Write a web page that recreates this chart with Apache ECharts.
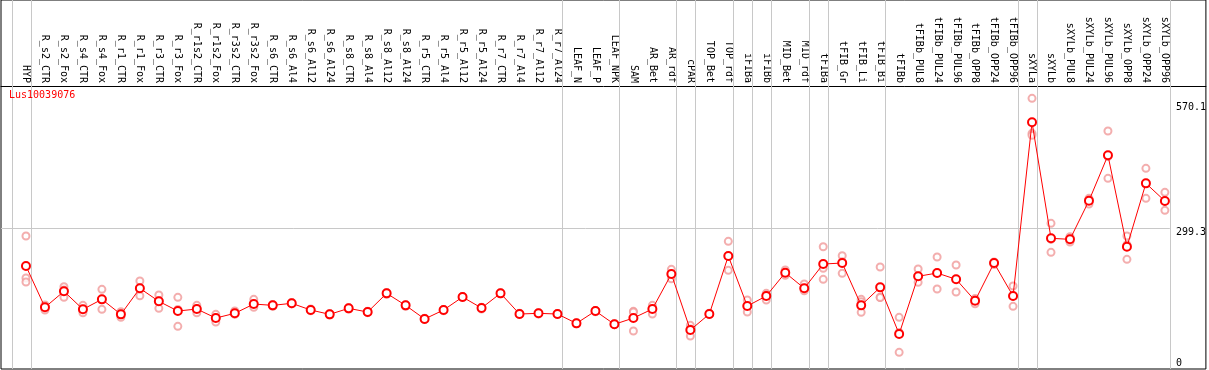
<!DOCTYPE html>
<html>
<head>
<meta charset="utf-8">
<script src="https://cdn.jsdelivr.net/npm/echarts@6/dist/echarts.min.js"></script>
<style>
html,body{margin:0;padding:0;background:#fff;}
#chart{width:1209px;height:370px;}
</style>
</head>
<body>
<div id="chart"></div>
<script>
const geneName = 'Lus10039076';
const categories = ['HYP','R_s2_CTR','R_s2_Fox','R_s4_CTR','R_s4_Fox','R_r1_CTR','R_r1_Fox','R_r3_CTR','R_r3_Fox','R_r1s2_CTR','R_r1s2_Fox','R_r3s2_CTR','R_r3s2_Fox','R_s6_CTR','R_s6_Al4','R_s6_Al12','R_s6_Al24','R_s8_CTR','R_s8_Al4','R_s8_Al12','R_s8_Al24','R_r5_CTR','R_r5_Al4','R_r5_Al12','R_r5_Al24','R_r7_CTR','R_r7_Al4','R_r7_Al12','R_r7_Al24','LEAF_N','LEAF_P','LEAF_NPK','SAM','AR_Bet','AR_rdf','cPAR','TOP_Bet','TOP_rdf','iFIBa','iFIBb','MID_Bet','MID_rdf','tFIBa','tFIB_Gr','tFIB_Li','tFIB_Bi','tFIBb','tFIBb_PUL8','tFIBb_PUL24','tFIBb_PUL96','tFIBb_OPP8','tFIBb_OPP24','tFIBb_OPP96','sXYLa','sXYLb','sXYLb_PUL8','sXYLb_PUL24','sXYLb_PUL96','sXYLb_OPP8','sXYLb_OPP24','sXYLb_OPP96'];
const meanValues = [217.1,127.6,162.3,123.3,144.9,112.4,168.8,140.6,119.6,123.9,104.4,114.6,134.7,131.9,136.3,121.8,112.4,125.4,117.4,157.9,131.9,102.3,121.8,149.9,126.1,157.9,113.1,114.6,113.1,92.9,119.6,90.8,104.4,123.9,199.7,78.4,113.1,238.7,130.4,152.1,202.6,168.8,221.4,223.6,131.9,170.9,69.8,194.8,201.9,188.3,141.9,223.6,152.1,528.4,277.1,274.9,358.5,456.9,258.9,396.2,357.9];
const rep1 = [282.1,132.6,172.2,131.9,166.6,118.1,184.6,154.2,149.3,131.9,112.4,119.6,144.9,134,138,124,114,127,119,160,133,104,123,151,128,159,115,116,114,94,121,92,118.9,131.9,209.9,88.6,115,270.6,143.4,157.9,208.4,178.1,258.9,239.4,144.9,214.9,105.9,210.6,236.6,219.2,146.7,225.7,173.7,580.4,309.6,280.5,363.7,509.5,282.1,428.7,376.7];
const rep2 = [191.1,128.2,165.1,121.8,144.9,112.4,168.8,141.9,123.1,123.9,104.4,114.6,134.7,131,136,122,112,125,117,158,132,102,122,150,126,158,113,115,113,93,120,91,117.4,123.9,199.7,80.6,113,238.7,130.4,154.2,202.6,168.8,212.1,226.4,139.7,149.3,73.2,194.8,201.9,188.3,143.4,223.6,152.1,504.6,274.7,274.9,360.1,454.1,263.2,396.2,357.9];
const rep3 = [182.4,121.8,149.3,115.9,123.3,105.9,152.7,125.4,86.4,115.9,95.8,112.4,127.6,130,135,120,111,124,116,156,130,101,120,149,124,157,112,113,112,92,118,90,76.3,113.1,189.6,65.4,112,207.8,117.4,143.4,196.9,163.6,188.3,201.3,116.8,148.8,30.1,181.8,167.2,160.7,135.4,220.3,129.8,500.2,246.8,269.1,351.4,407.1,231.6,363.7,337.7];
// index of the last category in each group (separator drawn after it)
const groupEnds = [-1,0,28,31,34,35,37,38,39,41,42,45,52,53,60];
const yTickValues = [0, 299.3, 570.1];
const refLineValue = 299.3;

const FONT = 'DejaVu Sans Mono';
const xMin = -1.3158, xMax = 62.16;
const yMin = -6, yMax = 793.4;
const sepOffset = 0.26;

const chart = echarts.init(document.getElementById('chart'));
const idx = categories.map((_, i) => i);
const toPts = arr => arr.map((v, i) => [i, v]);
const repStyle = {
  type: 'scatter', symbol: 'emptyCircle', symbolSize: 7, z: 3,
  itemStyle: { color: '#f09a9a', borderColor: '#f09a9a', borderWidth: 1.1 },
  silent: true
};

chart.setOption({
  animation: false,
  backgroundColor: '#ffffff',
  title: {
    text: geneName, left: 9, top: 90, padding: 0,
    textStyle: { color: '#ff0000', fontSize: 10, fontFamily: FONT, fontWeight: 'normal' }
  },
  grid: { left: 1, right: 2, top: 0, bottom: 1, show: true, borderColor: '#000', borderWidth: 1 },
  xAxis: {
    type: 'value', position: 'top', offset: -86, min: xMin, max: xMax,
    axisLine: { show: true, onZero: false, lineStyle: { color: '#000', width: 1 } },
    axisTick: { show: false },
    splitLine: { show: false },
    axisLabel: {
      customValues: idx, rotate: 90, margin: 3, fontSize: 10, fontFamily: FONT, color: '#000',
      formatter: v => categories[Math.round(v)]
    }
  },
  yAxis: {
    type: 'value', position: 'right', min: yMin, max: yMax,
    axisLine: { show: false }, axisTick: { show: false }, splitLine: { show: false },
    axisLabel: {
      inside: true, customValues: yTickValues, margin: 30, align: 'left',
      fontSize: 10, fontFamily: FONT, color: '#000',
      formatter: v => (v === 0 ? '{b|0}' : '{a|' + v + '}'),
      rich: {
        a: { fontSize: 10, fontFamily: FONT, color: '#000', padding: [8, 0, 0, 0] },
        b: { fontSize: 10, fontFamily: FONT, color: '#000', padding: [0, 0, 6, 0] }
      }
    }
  },
  series: [
    {
      type: 'line', data: [], silent: true, z: 1,
      markLine: {
        silent: true, symbol: ['none', 'none'], label: { show: false },
        lineStyle: { color: '#c8c8c8', width: 1, type: 'solid' },
        emphasis: { disabled: true },
        data: groupEnds.map(k => ({ xAxis: k + sepOffset })).concat([
          [{ coord: [xMin, refLineValue] }, { coord: [groupEnds[groupEnds.length - 1] + sepOffset, refLineValue] }]
        ])
      }
    },
    Object.assign({ name: 'rep1', data: toPts(rep1) }, repStyle),
    Object.assign({ name: 'rep2', data: toPts(rep2) }, repStyle),
    Object.assign({ name: 'rep3', data: toPts(rep3) }, repStyle),
    {
      name: 'mean', type: 'line', data: toPts(meanValues), z: 5,
      symbol: 'emptyCircle', symbolSize: 8,
      lineStyle: { color: '#ff0000', width: 1 },
      itemStyle: { color: '#ff0000', borderColor: '#e80000', borderWidth: 1.4 }
    }
  ]
});
</script>
</body>
</html>
